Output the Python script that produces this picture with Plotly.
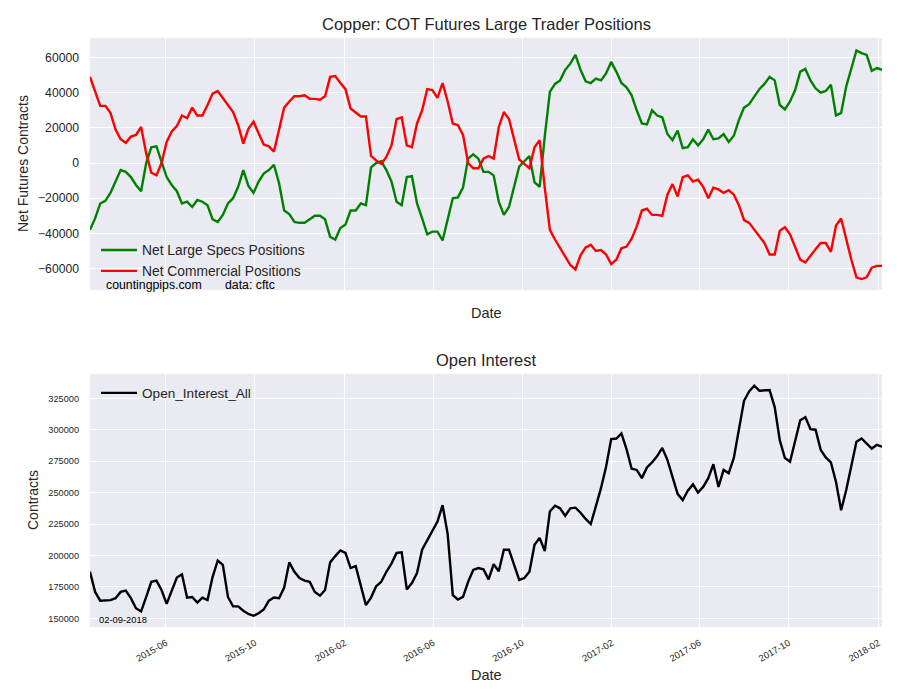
import plotly.graph_objects as go
import pandas as pd

# weekly COT report dates (Tuesdays)
first_date = '2015-02-17'
n_weeks = 156
dates = pd.date_range(first_date, periods=n_weeks, freq='7D')

net_large_specs = [
    -38000, -31500, -23000, -21500, -17000, -10000, -4000, -5000, -8000, -12500,
    -16000, 0, 9000, 9500, 1000, -8000, -12500, -16000, -23000, -22000,
    -25000, -21000, -22000, -24000, -32000, -33500, -29500, -23000, -20000, -13500,
    -4000, -13000, -17000, -10500, -6000, -4000, -1000, -11500, -27000, -29000,
    -33500, -34000, -34000, -32000, -30000, -30000, -32000, -42000, -43500, -37000,
    -35000, -27000, -27000, -23000, -24000, -2500, 0, 1000, -4000, -10500,
    -22000, -24000, -8000, -7500, -23000, -31500, -40500, -39000, -39000, -44000,
    -32500, -20000, -19500, -14000, 2500, 5000, 2500, -5000, -5000, -7000,
    -22000, -29500, -25000, -13500, -2000, 1000, 4000, -11000, -13500, 15000,
    40500, 45000, 47000, 53000, 56500, 61500, 53000, 46500, 45500, 48000,
    47000, 51000, 57500, 52000, 45500, 43000, 38500, 30000, 22500, 22000,
    30000, 27000, 26000, 16500, 13000, 18500, 8500, 9000, 13500, 10000,
    13500, 19000, 13500, 14000, 16500, 12000, 15500, 24500, 31500, 33500,
    38000, 42000, 45000, 49000, 47000, 33000, 30500, 35000, 41500, 52000,
    53500, 47000, 42500, 40000, 41000, 44500, 27000, 28500, 43500, 54000,
    64000, 62500, 61500, 52500, 54000, 53000,
]

net_commercial = [
    49000, 40500, 32500, 32500, 28500, 19000, 13500, 11500, 15000, 16000,
    20500, 5500, -5500, -7000, 0, 12000, 18000, 21000, 27000, 25500,
    31500, 27000, 27000, 33000, 39500, 41000, 37000, 33000, 29000, 21500,
    11000, 19500, 23500, 17000, 10500, 9500, 6500, 19000, 31500, 35000,
    38000, 38000, 38500, 36500, 36500, 36000, 38000, 49000, 49500, 45500,
    42000, 31000, 29000, 26500, 26500, 4000, 1500, -500, 3500, 10000,
    25000, 26000, 10000, 9000, 22500, 30000, 42000, 41500, 37000, 45500,
    35000, 22500, 21500, 16000, 0, -3000, -3000, 2500, 4000, 2500,
    20500, 29000, 25000, 13000, 2000, -500, -3000, 9000, 13000, -14000,
    -38000, -43500, -48500, -53500, -58000, -60500, -52500, -48000, -46500, -50000,
    -49500, -52000, -57500, -55000, -48500, -47500, -43000, -36000, -27000, -26000,
    -29500, -29500, -30000, -18000, -12000, -19000, -8000, -7000, -10500, -9500,
    -13500, -20000, -14000, -15000, -17000, -15500, -18000, -24000, -32500, -34000,
    -38000, -41500, -45500, -52000, -52000, -38500, -36500, -40500, -47500, -55000,
    -56500, -52500, -49000, -45500, -45500, -50500, -35500, -31500, -44000, -55000,
    -65000, -66000, -65000, -59500, -58500, -58500,
]

open_interest = [
    187000, 171000, 164000, 164500, 164500, 166000, 171000, 172000, 166000, 158000,
    155500, 167000, 179000, 180000, 172500, 161500, 172500, 182500, 185000, 166500,
    167000, 162500, 166500, 164500, 183000, 196000, 192500, 167000, 159500, 159500,
    156000, 153500, 152000, 154000, 157000, 164000, 166500, 166000, 174500, 194500,
    187000, 182000, 180000, 179000, 171000, 168000, 172500, 194500, 199500, 204000,
    202000, 190000, 191500, 175000, 160500, 166500, 175500, 179000, 187000, 193500,
    202000, 202500, 173000, 178000, 186000, 204500, 212000, 218500, 227000, 240000,
    217000, 168500, 165000, 167000, 179000, 188500, 190000, 189000, 181000, 193000,
    187500, 204500, 204500, 192500, 180500, 182000, 187000, 208500, 214000, 203500,
    235000, 239500, 237500, 231500, 237500, 238000, 234000, 229000, 225000, 239000,
    253500, 270500, 292500, 293000, 297000, 284500, 269000, 268000, 261500, 270000,
    274000, 279000, 285500, 276000, 261500, 249000, 244000, 251500, 256500, 250000,
    254500, 261500, 272500, 254500, 268000, 265500, 277500, 300000, 323000, 330500,
    335000, 331000, 331000, 331500, 318000, 291500, 277500, 274500, 291000, 307500,
    310000, 300500, 300000, 284000, 278000, 274000, 258500, 236000, 252000, 270500,
    290500, 293000, 289000, 285000, 288000, 286500,
]

x_ticks = ['2015-06-01', '2015-10-01', '2016-02-01', '2016-06-01', '2016-10-01',
           '2017-02-01', '2017-06-01', '2017-10-01', '2018-02-01']
pos_ticks = [-60000, -40000, -20000, 0, 20000, 40000, 60000]
oi_ticks = [150000, 175000, 200000, 225000, 250000, 275000, 300000, 325000]

FONT = 'Liberation Sans, Arial, sans-serif'
TXT = '#262626'
W, H = 900, 700
PAGE_OFFSET = 8  # page body margin shifts the figure


def px(x):
    return (x - PAGE_OFFSET) / W


def py(y):
    return 1 - (y - PAGE_OFFSET) / H


fig = go.Figure()

fig.add_trace(go.Scatter(x=dates, y=net_large_specs, mode='lines',
                         name='Net Large Specs Positions',
                         line=dict(color='green', width=2.4),
                         xaxis='x', yaxis='y', legend='legend'))
fig.add_trace(go.Scatter(x=dates, y=net_commercial, mode='lines',
                         name='Net Commercial Positions',
                         line=dict(color='red', width=2.4),
                         xaxis='x', yaxis='y', legend='legend'))
fig.add_trace(go.Scatter(x=dates, y=open_interest, mode='lines',
                         name='Open_Interest_All',
                         line=dict(color='black', width=2.4),
                         xaxis='x2', yaxis='y2', legend='legend2'))

xrange = [dates[0], dates[-1]]
common_x = dict(range=xrange, tickvals=x_ticks, tickformat='%Y-%m',
                showgrid=True, gridcolor='white', gridwidth=1.3,
                zeroline=False, showline=False, ticks='')
common_y = dict(showgrid=True, gridcolor='white', gridwidth=1.3,
                zeroline=False, showline=False, ticks='', tickformat='d',
                ticklabelstandoff=10)

fig.update_layout(
    width=W, height=H,
    margin=dict(l=0, r=0, t=0, b=0),
    paper_bgcolor='white',
    plot_bgcolor='#EAEAF2',
    font=dict(family=FONT, color=TXT),
    xaxis=dict(domain=[px(90), px(882)], anchor='y', showticklabels=False,
               **common_x),
    yaxis=dict(domain=[py(290), py(38)], anchor='x', range=[-72200, 71100],
               tickvals=pos_ticks, tickfont=dict(size=12.2, color=TXT),
               **common_y),
    xaxis2=dict(domain=[px(90), px(882)], anchor='y2', tickangle=-30,
                ticklabelstandoff=8,
                tickfont=dict(size=9.4, color=TXT), **common_x),
    yaxis2=dict(domain=[py(627), py(374)], anchor='x2', range=[143100, 344300],
                tickvals=oi_ticks, tickfont=dict(size=9.2, color=TXT),
                **common_y),
    legend=dict(x=px(96), y=py(260.5), xanchor='left', yanchor='middle',
                bgcolor='rgba(0,0,0,0)', font=dict(size=13.8, color=TXT),
                tracegroupgap=0, itemwidth=36),
    legend2=dict(x=px(96), y=py(393), xanchor='left', yanchor='middle',
                 bgcolor='rgba(0,0,0,0)', font=dict(size=13.6, color=TXT),
                 itemwidth=36),
)

notes = [
    ('Copper: COT Futures Large Trader Positions', 486, 24, 16.5, 'center', 0),
    ('Open Interest', 486, 360, 16.5, 'center', 0),
    ('Date', 486, 313, 14.5, 'center', 0),
    ('Date', 486, 675, 14.5, 'center', 0),
    ('Net Futures Contracts', 23, 164, 14, 'center', -90),
    ('Contracts', 33, 500, 14, 'center', -90),
    ('countingpips.com', 104, 285, 12.3, 'left', 0),
    ('data: cftc', 223, 285, 12.3, 'left', 0),
    ('02-09-2018', 97, 619, 9.4, 'left', 0),
]
for text, x, y, size, anchor, angle in notes:
    color = 'black' if size < 13 else TXT
    fig.add_annotation(text=text, x=px(x), y=py(y), xref='paper', yref='paper',
                       xanchor=anchor, yanchor='middle', showarrow=False,
                       textangle=angle, font=dict(size=size, color=color,
                                                  family=FONT))

fig.write_html('out.html')
